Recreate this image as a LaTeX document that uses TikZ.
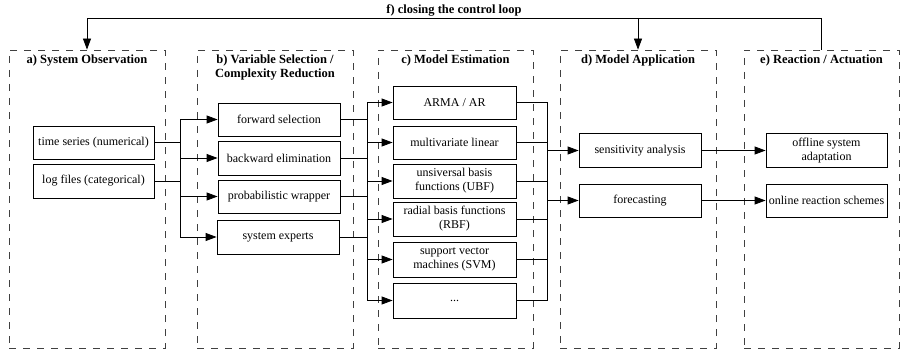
\documentclass[tikz,border=0pt]{standalone}
\usepackage{fontspec}
\setmainfont{Liberation Serif}
\usetikzlibrary{arrows.meta}
\begin{document}
\begin{tikzpicture}[x=1pt,y=-1pt,
  frame/.style={draw=black!75, line width=0.8pt, dash pattern=on 7pt off 7pt,
    minimum height=298pt, inner sep=0pt},
  title/.style={font=\fontsize{12.5}{14}\selectfont\bfseries, align=center,
    inner sep=0pt, anchor=north},
  box/.style={draw, line width=0.8pt, minimum width=122pt, minimum height=34pt,
    inner sep=1pt, align=center, font=\fontsize{12}{14}\selectfont},
  link/.style={line width=0.8pt},
  arrow/.style={line width=0.8pt, -{Triangle[length=11pt,width=8pt]}},
]
\useasboundingbox (0,0) rectangle (901,350);

% stage frames
\node[frame, minimum width=156pt] (fa) at (87,199) {};
\node[frame, minimum width=156pt] (fb) at (275,199) {};
\node[frame, minimum width=155pt] (fc) at (455.5,199) {};
\node[frame, minimum width=156pt] (fd) at (638,199) {};
\node[frame, minimum width=155pt] (fe) at (821.5,199) {};

% stage titles
\node[title] (ta) at ([yshift=-5pt]fa.north) {a) System Observation};
\node[title] (tb) at ([yshift=-5pt]fb.north) {b) Variable Selection /\\Complexity Reduction};
\node[title] (tc) at ([yshift=-5pt]fc.north) {c) Model Estimation};
\node[title] (td) at ([yshift=-5pt]fd.north) {d) Model Application};
\node[title] (te) at ([yshift=-5pt]fe.north) {e) Reaction / Actuation};

% a) observed data
\node[box, minimum width=121pt, minimum height=33pt] (ts) at (93.5,142.5) {time series (numerical)};
\node[box, minimum width=121pt] (lf) at (93.5,181) {log files (categorical)};

% b) variable selection
\node[box, minimum height=33pt] (fs) at (279,119.5) {forward selection};
\node[box] (be) at (279,158) {backward elimination};
\node[box, minimum height=33pt] (pw) at (279,196.5) {probabilistic wrapper};
\node[box] (se) at (278,237) {system experts};

% c) model estimation
\node[box, minimum width=123pt, minimum height=33pt] (arma) at (454.5,102.5) {ARMA / AR};
\node[box, minimum width=123pt, minimum height=33pt] (mvl) at (454.5,142.5) {multivariate linear};
\node[box, minimum width=123pt] (ubf) at (454.5,181) {unsiversal basis\\functions (UBF)};
\node[box, minimum width=123pt] (rbf) at (454.5,219) {radial basis functions\\(RBF)};
\node[box, minimum width=123pt, minimum height=35pt] (svm) at (454.5,259.5) {support vector\\machines (SVM)};
\node[box, minimum width=123pt, minimum height=35pt] (etc) at (454.5,300.5) {...};

% d) model application
\node[box] (sa) at (640,150.5) {sensitivity analysis};
\node[box, minimum height=33pt] (fcst) at (640,200.5) {forecasting};

% e) reaction
\node[box, minimum width=121pt] (osa) at (826.5,150.5) {offline system\\adaptation};
\node[box, minimum width=121pt, minimum height=33pt] (ors) at (826.5,200.5) {online reaction schemes};

% bus lines between stages
\coordinate (jab) at (180,0);
\coordinate (jbc) at (367,0);
\coordinate (jcd) at (547,0);

% a -> b
\draw[link] (ts.east) -- (ts -| jab);
\draw[link] (lf.east) -- (lf -| jab);
\draw[link] (fs -| jab) -- (se -| jab);
\foreach \n in {fs,be,pw,se} \draw[arrow] (\n -| jab) -- (\n.west);

% b -> c
\foreach \n in {fs,be,pw,se} \draw[link] (\n.east) -- (\n -| jbc);
\draw[link] (arma -| jbc) -- (etc -| jbc);
\foreach \n in {arma,mvl,ubf,rbf,svm,etc} \draw[arrow] (\n -| jbc) -- (\n.west);

% c -> d
\foreach \n in {arma,mvl,ubf,rbf,svm,etc} \draw[link] (\n.east) -- (\n -| jcd);
\draw[link] (arma -| jcd) -- (etc -| jcd);
\draw[arrow] (sa -| jcd) -- (sa.west);
\draw[arrow] (fcst -| jcd) -- (fcst.west);

% d -> e
\draw[arrow] (sa.east) -- (osa.west);
\draw[arrow] (fcst.east) -- (ors.west);

% f) closing the control loop
\coordinate (ltop) at (0,18);
\draw[arrow] (fe.north) |- (fa.north |- ltop) -- (fa.north);
\draw[arrow] (fd.north |- ltop) -- (fd.north);
\node[font=\fontsize{12.5}{14}\selectfont\bfseries, anchor=south, inner sep=1pt] (tf) at (454,17) {f) closing the control loop};
\end{tikzpicture}
\end{document}
